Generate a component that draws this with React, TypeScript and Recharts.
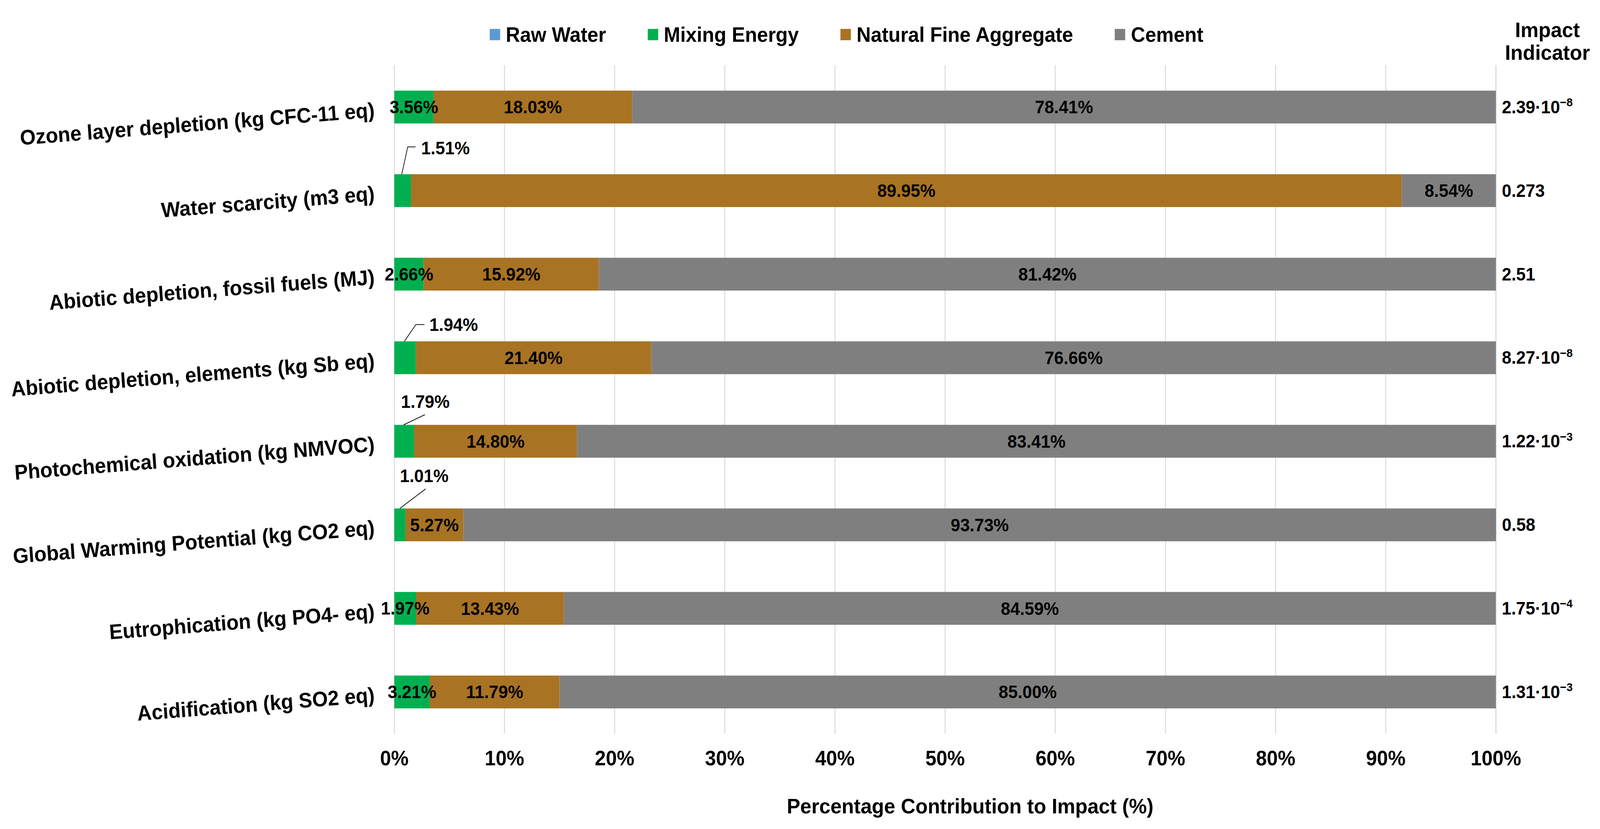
import React from "react";
import { BarChart, Bar, XAxis, YAxis, CartesianGrid, LabelList, Legend } from "recharts";

const categories = [
  "Ozone layer depletion (kg CFC-11 eq)",
  "Water scarcity (m3 eq)",
  "Abiotic depletion, fossil fuels (MJ)",
  "Abiotic depletion, elements (kg Sb eq)",
  "Photochemical oxidation (kg NMVOC)",
  "Global Warming Potential (kg CO2 eq)",
  "Eutrophication (kg PO4- eq)",
  "Acidification (kg SO2 eq)",
];

const rawWater = [0, 0, 0, 0, 0, 0, 0, 0];
const mixingEnergy = [3.56, 1.51, 2.66, 1.94, 1.79, 1.01, 1.97, 3.21];
const naturalFineAggregate = [18.03, 89.95, 15.92, 21.4, 14.8, 5.27, 13.43, 11.79];
const cement = [78.41, 8.54, 81.42, 76.66, 83.41, 93.73, 84.59, 85.0];

// impact indicator column on the right, "^" splits off the exponent
const impactIndicator = [
  "2.39·10^−8",
  "0.273",
  "2.51",
  "8.27·10^−8",
  "1.22·10^−3",
  "0.58",
  "1.75·10^−4",
  "1.31·10^−3",
];

const xTicks = [0, 10, 20, 30, 40, 50, 60, 70, 80, 90, 100];

const seriesNames = ["Raw Water", "Mixing Energy", "Natural Fine Aggregate", "Cement"];
const seriesColors = ["#5B9BD5", "#00B050", "#A87323", "#7F7F7F"];

const data = categories.map((name, i) => ({
  name,
  rawWater: rawWater[i],
  mixingEnergy: mixingEnergy[i],
  naturalFineAggregate: naturalFineAggregate[i],
  cement: cement[i],
}));

const FONT = "Arial, 'Liberation Sans', sans-serif";
const W = 4293;
const H = 2122;

// small mixing energy labels that sit above the bar with a leader line
// offsets are relative to the bar's left edge / top edge
const callouts: Record<string, { line: number[][]; tx: number; ty: number }> = {
  "Water scarcity (m3 eq)": { line: [[20, 0], [36, -70], [57, -70]], tx: 72, ty: -67 },
  "Abiotic depletion, elements (kg Sb eq)": { line: [[27, 0], [58, -43], [81, -43]], tx: 94, ty: -42 },
  "Photochemical oxidation (kg NMVOC)": { line: [[25, 0], [82, -26]], tx: 18, ty: -59 },
  "Global Warming Potential (kg CO2 eq)": { line: [[15, 0], [84, -50]], tx: 15, ty: -83 },
};

const boxOf = (props: any) => {
  const vb = props.viewBox && props.viewBox.width !== undefined ? props.viewBox : props;
  return { x: Number(vb.x), y: Number(vb.y), width: Number(vb.width), height: Number(vb.height) };
};

const MixLabel = (props: any) => {
  const { x, y, width, height } = boxOf(props);
  const name = props.value;
  const i = categories.indexOf(name);
  if (i < 0) return null;
  const text = mixingEnergy[i].toFixed(2) + "%";
  const c = callouts[name];
  if (!c) {
    return (
      <text x={x + width / 2} y={y + height / 2} textAnchor="middle" dominantBaseline="central"
        fontFamily={FONT} fontWeight="bold" fontSize={46} fill="#000">
        {text}
      </text>
    );
  }
  const pts = c.line.map(([dx, dy]) => `${x + dx},${y + dy}`).join(" ");
  return (
    <g>
      <polyline points={pts} fill="none" stroke="#1a1a1a" strokeWidth={2} />
      <text x={x + c.tx} y={y + c.ty} textAnchor="start" dominantBaseline="central"
        fontFamily={FONT} fontWeight="bold" fontSize={46} fill="#000">
        {text}
      </text>
    </g>
  );
};

const ImpactLabel = (props: any) => {
  const { x, y, width, height } = boxOf(props);
  const i = categories.indexOf(props.value);
  if (i < 0) return null;
  const [base, exp] = impactIndicator[i].split("^");
  return (
    <text x={x + width + 16} y={y + height / 2} dominantBaseline="central"
      fontFamily={FONT} fontWeight="bold" fontSize={46} fill="#000">
      {base}
      {exp && (
        <tspan dy={-13} fontSize={30}>
          {exp}
        </tspan>
      )}
    </text>
  );
};

const CategoryTick = (props: any) => {
  const { x, y, payload } = props;
  const ty = y + 7;
  return (
    <text x={x} y={ty} textAnchor="end" dominantBaseline="central" transform={`rotate(-4.3 ${x} ${ty})`}
      fontFamily={FONT} fontWeight="bold" fontSize={54} fill="#000">
      {payload.value}
    </text>
  );
};

const LegendBlock = () => (
  <div style={{ position: "relative", width: W, height: 167, fontFamily: FONT, fontWeight: "bold" }}>
    <div style={{ position: "absolute", left: 1314, top: 58, height: 60, display: "flex", alignItems: "center" }}>
      {seriesNames.map((n, i) => (
        <div key={n} style={{ display: "flex", alignItems: "center", marginRight: 112 }}>
          <span style={{ width: 28, height: 29, background: seriesColors[i], marginRight: 15, display: "inline-block" }} />
          <span style={{ fontSize: 53, color: "#000", whiteSpace: "nowrap" }}>{n}</span>
        </div>
      ))}
    </div>
    <div style={{ position: "absolute", left: 4032, width: 240, top: 47, textAlign: "center", fontSize: 54, lineHeight: "58px", color: "#000" }}>
      Impact
      <br />
      Indicator
    </div>
  </div>
);

const AxisTitle = (props: any) => {
  const vb = props.viewBox || { x: 1058, y: 1878, width: 2956, height: 244 };
  return (
    <text x={vb.x + vb.width / 2 + 67} y={vb.y + vb.height - 40} textAnchor="middle"
      fontFamily={FONT} fontWeight="bold" fontSize={54} fill="#000">
      Percentage Contribution to Impact (%)
    </text>
  );
};

const pct = (v: any) => `${Number(v).toFixed(2)}%`;

export default function App() {
  // the browser window can be narrower than the chart, so squeeze it horizontally to fit
  const viewW = typeof window !== "undefined" ? window.innerWidth : W;
  const sx = Math.min(1, viewW / W);
  return (
    <div style={{ width: Math.floor(W * sx), height: H, overflow: "hidden", background: "#fff" }}>
      <style>{"body{margin:0;}"}</style>
      <div style={{ width: W, height: H, transform: `scale(${sx}, 1)`, transformOrigin: "0 0" }}>
        <BarChart
          width={W}
          height={H}
          data={data}
          layout="vertical"
          margin={{ top: 167, right: 279, bottom: 0, left: 0 }}
          barSize={84}
        >
          <CartesianGrid horizontal={false} stroke="#D9D9D9" strokeWidth={2.5} />
          <XAxis
            type="number"
            domain={[0, 100]}
            ticks={xTicks}
            tickFormatter={(v) => `${v}%`}
            axisLine={false}
            tickLine={false}
            tickMargin={37}
            height={244}
            tick={{ fontFamily: FONT, fontWeight: "bold", fontSize: 53, fill: "#000" }}
            label={{ content: AxisTitle }}
          />
          <YAxis
            type="category"
            dataKey="name"
            width={1058}
            axisLine={false}
            tickLine={false}
            tickMargin={47}
            interval={0}
            tick={<CategoryTick />}
          />
          <Legend
            layout="vertical"
            align="center"
            verticalAlign="middle"
            wrapperStyle={{ top: 0, left: 0, width: W, height: 167 }}
            content={() => <LegendBlock />}
          />
          <Bar dataKey="rawWater" name="Raw Water" stackId="a" fill={seriesColors[0]} isAnimationActive={false} />
          <Bar dataKey="mixingEnergy" name="Mixing Energy" stackId="a" fill={seriesColors[1]} isAnimationActive={false}>
            <LabelList dataKey="name" content={MixLabel} />
          </Bar>
          <Bar dataKey="naturalFineAggregate" name="Natural Fine Aggregate" stackId="a" fill={seriesColors[2]} isAnimationActive={false}>
            <LabelList dataKey="naturalFineAggregate" position="center" formatter={pct}
              style={{ fontFamily: FONT, fontWeight: "bold", fontSize: 46, fill: "#000" }} />
          </Bar>
          <Bar dataKey="cement" name="Cement" stackId="a" fill={seriesColors[3]} isAnimationActive={false}>
            <LabelList dataKey="cement" position="center" formatter={pct}
              style={{ fontFamily: FONT, fontWeight: "bold", fontSize: 46, fill: "#000" }} />
            <LabelList dataKey="name" content={ImpactLabel} />
          </Bar>
        </BarChart>
      </div>
    </div>
  );
}
